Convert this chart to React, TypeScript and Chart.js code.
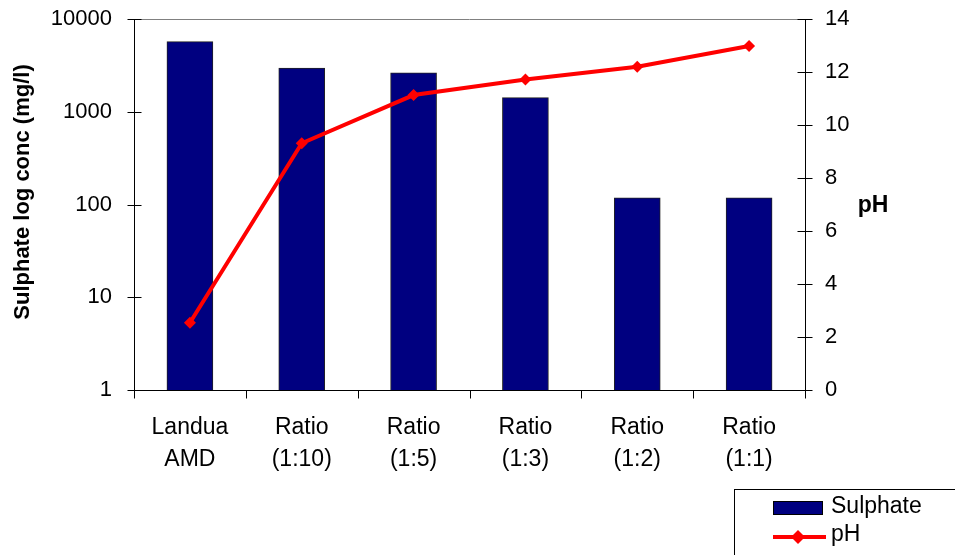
import React, { useEffect, useRef } from 'react';
import { Chart, registerables } from 'chart.js';

Chart.register(...registerables);

const categories: string[][] = [
  ['Landua', 'AMD'],
  ['Ratio', '(1:10)'],
  ['Ratio', '(1:5)'],
  ['Ratio', '(1:3)'],
  ['Ratio', '(1:2)'],
  ['Ratio', '(1:1)'],
];
const sulphate = [5700, 2960, 2620, 1420, 118, 118];
const ph = [2.54, 9.31, 11.13, 11.72, 12.2, 12.98];
const logTicks = [1, 10, 100, 1000, 10000];
const phTicks = [0, 2, 4, 6, 8, 10, 12, 14];

const FONT = 'Arial, "Liberation Sans", sans-serif';
const NAVY = '#000080';
const RED = '#FF0000';

const decor = {
  id: 'decor',
  afterDraw(chart: any) {
    const ctx = chart.ctx as CanvasRenderingContext2D;
    const { left, right, top, bottom } = chart.chartArea;
    const y = chart.scales.y;
    const y2 = chart.scales.y2;
    ctx.save();
    const line = (x1: number, y1: number, x2: number, y2_: number, color: string, w = 1) => {
      ctx.beginPath();
      ctx.strokeStyle = color;
      ctx.lineWidth = w;
      ctx.moveTo(x1, y1);
      ctx.lineTo(x2, y2_);
      ctx.stroke();
    };
    // top border
    line(left, Math.round(top) + 0.5, right, Math.round(top) + 0.5, '#808080');
    // left ticks (crossing)
    const lx = Math.round(left) + 0.5;
    logTicks.forEach((v) => {
      const py = Math.round(y.getPixelForValue(v)) + 0.5;
      line(lx - 7, py, lx + 7, py, '#000');
    });
    // right ticks (crossing)
    const rx = Math.round(right) + 0.5;
    phTicks.forEach((v) => {
      const py = Math.round(y2.getPixelForValue(v)) + 0.5;
      line(rx - 8, py, rx + 7, py, '#000');
    });
    // bottom ticks between categories
    const by = Math.round(bottom) + 0.5;
    const n = categories.length;
    for (let i = 0; i <= n; i++) {
      const px = Math.round(left + (i * (right - left)) / n) + 0.5;
      line(px, by, px, by + 8, '#000');
    }

    // left axis title
    ctx.save();
    ctx.translate(23, 192);
    ctx.rotate(-Math.PI / 2);
    ctx.fillStyle = '#000';
    ctx.font = `bold 22px ${FONT}`;
    ctx.textAlign = 'center';
    ctx.textBaseline = 'middle';
    ctx.fillText('Sulphate log conc (mg/l)', 0, 0);
    ctx.restore();

    // right axis title
    ctx.fillStyle = '#000';
    ctx.font = `bold 23px ${FONT}`;
    ctx.textAlign = 'center';
    ctx.textBaseline = 'alphabetic';
    ctx.fillText('pH', 873, 212);

    // legend
    ctx.strokeStyle = '#000';
    ctx.lineWidth = 1;
    ctx.strokeRect(734.5, 489.5, 400, 200);
    ctx.fillStyle = NAVY;
    ctx.fillRect(773, 501, 50, 14);
    ctx.strokeStyle = '#000';
    ctx.strokeRect(773.5, 501.5, 49, 13);
    line(773, 537, 826, 537, RED, 4);
    ctx.beginPath();
    ctx.fillStyle = RED;
    ctx.moveTo(798, 530);
    ctx.lineTo(805, 537);
    ctx.lineTo(798, 544);
    ctx.lineTo(791, 537);
    ctx.closePath();
    ctx.fill();
    ctx.fillStyle = '#000';
    ctx.font = `23px ${FONT}`;
    ctx.textAlign = 'left';
    ctx.textBaseline = 'middle';
    ctx.fillText('Sulphate', 831, 507);
    ctx.fillText('pH', 831, 535);
    ctx.restore();
  },
};

export default function App() {
  const ref = useRef<HTMLCanvasElement | null>(null);
  useEffect(() => {
    if (!ref.current) return;
    const chart = new Chart(ref.current, {
      data: {
        labels: categories,
        datasets: [
          {
            type: 'line',
            label: 'pH',
            data: ph,
            yAxisID: 'y2',
            borderColor: RED,
            backgroundColor: RED,
            borderWidth: 4,
            pointStyle: 'rectRot',
            pointRadius: 6,
            pointBorderWidth: 0,
            pointBackgroundColor: RED,
            tension: 0,
            order: 0,
          },
          {
            type: 'bar',
            label: 'Sulphate',
            data: sulphate,
            yAxisID: 'y',
            backgroundColor: NAVY,
            borderColor: '#222',
            borderWidth: 1,
            barThickness: 46,
            order: 1,
          },
        ],
      } as any,
      options: {
        animation: false,
        responsive: false,
        maintainAspectRatio: false,
        layout: { padding: { top: 19, left: 0, right: 0, bottom: 0 } },
        plugins: {
          legend: { display: false },
          tooltip: { enabled: false },
        },
        scales: {
          x: {
            type: 'category',
            grid: { display: false, offset: true },
            border: { display: true, color: '#000', width: 1 },
            ticks: {
              color: '#000',
              font: { family: FONT, size: 23, lineHeight: 1.39 },
              padding: 14,
              maxRotation: 0,
              autoSkip: false,
            },
            afterFit: (s: any) => {
              s.height = 165;
              s.paddingLeft = 0;
              s.paddingRight = 0;
            },
          },
          y: {
            type: 'logarithmic',
            position: 'left',
            min: 1,
            max: 10000,
            grid: { display: false },
            border: { display: true, color: '#000', width: 1 },
            afterBuildTicks: (s: any) => {
              s.ticks = logTicks.map((v) => ({ value: v }));
            },
            ticks: {
              color: '#000',
              font: { family: FONT, size: 22 },
              padding: 14,
              callback: (v: any) => String(v),
            },
            afterFit: (s: any) => {
              s.width = 134;
              s.paddingTop = 0;
              s.paddingBottom = 0;
            },
          },
          y2: {
            type: 'linear',
            position: 'right',
            min: 0,
            max: 14,
            grid: { display: false },
            border: { display: true, color: '#000', width: 1 },
            afterBuildTicks: (s: any) => {
              s.ticks = phTicks.map((v) => ({ value: v }));
            },
            ticks: {
              color: '#000',
              font: { family: FONT, size: 22 },
              padding: 12,
            },
            afterFit: (s: any) => {
              s.width = 150;
              s.paddingTop = 0;
              s.paddingBottom = 0;
            },
          },
        },
      } as any,
      plugins: [decor],
    });
    return () => chart.destroy();
  }, []);
  return (
    <div style={{ position: 'fixed', left: 0, top: 0, width: 955, height: 555, background: '#fff' }}>
      <canvas ref={ref} width={955} height={555} style={{ width: 955, height: 555 }} />
    </div>
  );
}
